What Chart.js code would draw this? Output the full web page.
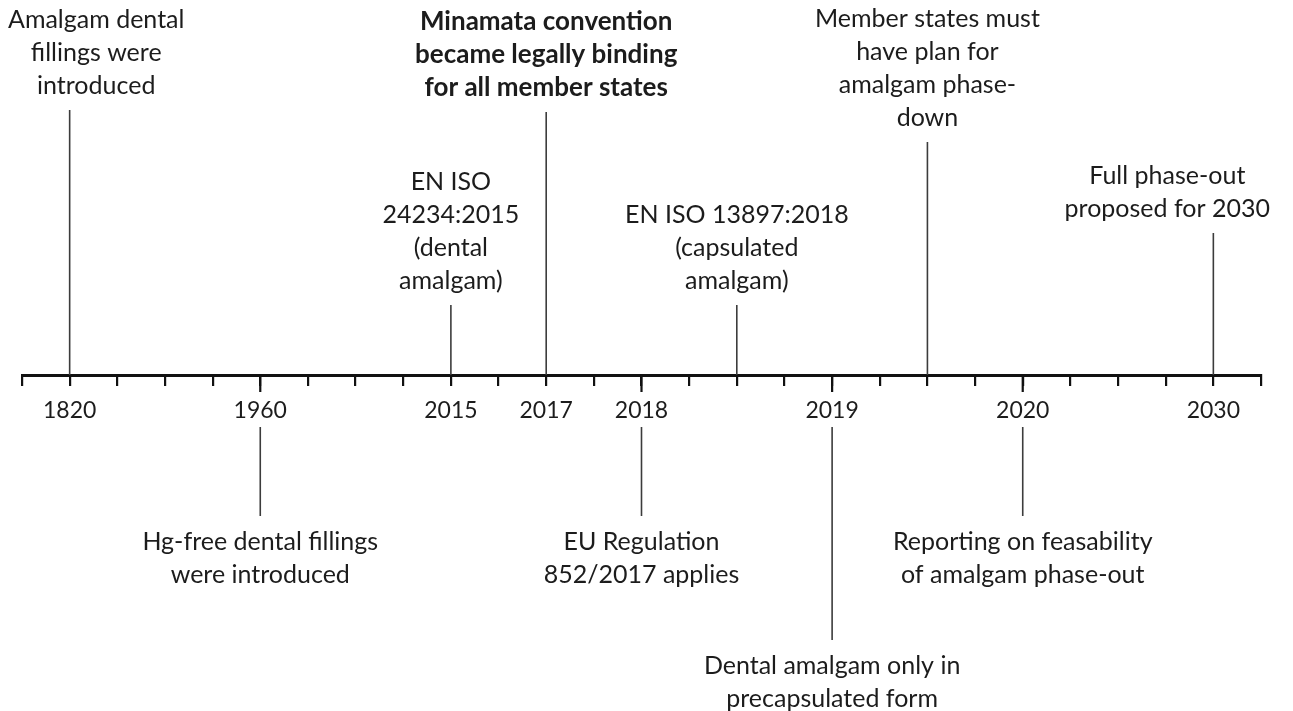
<!DOCTYPE html>
<html>
<head>
<meta charset="utf-8">
<script src="https://cdn.jsdelivr.net/npm/chart.js@4.4.0/dist/chart.umd.min.js"></script>
<style>
  html, body { margin: 0; padding: 0; background: #fff; }
  #wrap { width: 1293px; height: 711px; }
</style>
</head>
<body>
<div id="wrap"><canvas id="timeline"></canvas></div>
<script>
// axis slots (one tick per slot) and the years printed under some of them
const tickSlots = [1, 5, 9, 11, 13, 17, 21, 25];
const tickYears = ['1820', '1960', '2015', '2017', '2018', '2019', '2020', '2030'];

// events: slot on the axis, where the stem starts/ends (above > 0, below < 0)
const eventSlots = [1, 11, 9, 15, 19, 25, 5, 13, 17, 21];
const stemStart = [0, 0, 0, 0, 0, 0, -52, -52, -52, -52];
const stemEnd = [265, 263, 70, 70, 233, 142, -141, -141, -265, -141];
const eventTexts = [
  ['Amalgam dental', 'fillings were', 'introduced'],
  ['Minamata convention', 'became legally binding', 'for all member states'],
  ['EN ISO', '24234:2015', '(dental', 'amalgam)'],
  ['EN ISO 13897:2018', '(capsulated', 'amalgam)'],
  ['Member states must', 'have plan for', 'amalgam phase-', 'down'],
  ['Full phase-out', 'proposed for 2030'],
  ['Hg-free dental fillings', 'were introduced'],
  ['EU Regulation', '852/2017 applies'],
  ['Dental amalgam only in', 'precapsulated form'],
  ['Reporting on feasability', 'of amalgam phase-out']
];
const boldEvent = 1;

const FONT = 'Lato';
const FONT_SIZE = 25;
const TICK_FONT_SIZE = 23;
const LINE = 33;
const TEXT_COLOR = '#1c1c1c';

const datasets = [];
eventSlots.forEach((slot, i) => {
  datasets.push({
    data: [{ x: slot, y: stemStart[i] }, { x: slot, y: stemEnd[i] }],
    borderColor: '#3c3c3c',
    borderWidth: 1.6
  });
  // events below the axis get a longer tick mark
  if (stemEnd[i] < 0) {
    datasets.push({
      data: [{ x: slot, y: 0 }, { x: slot, y: -17 }],
      borderColor: '#111',
      borderWidth: 2.2
    });
  }
});

const eventLabels = {
  id: 'eventLabels',
  afterDatasetsDraw(chart) {
    const { ctx, scales: { x, y } } = chart;
    ctx.save();
    ctx.fillStyle = TEXT_COLOR;
    ctx.textAlign = 'center';
    ctx.textBaseline = 'alphabetic';
    eventTexts.forEach((lines, i) => {
      ctx.font = i === boldEvent ? 'bold 26px ' + FONT : FONT_SIZE + 'px ' + FONT;
      const w = Math.max(...lines.map(t => ctx.measureText(t).width));
      let cx = x.getPixelForValue(eventSlots[i]);
      cx = Math.min(Math.max(cx, 8 + w / 2), 1270 - w / 2);
      const end = y.getPixelForValue(stemEnd[i]);
      const above = stemEnd[i] > 0;
      lines.forEach((t, k) => {
        const by = above
          ? end - 16 - (lines.length - 1 - k) * LINE
          : end + 34 + k * LINE;
        ctx.fillText(t, cx, by);
      });
    });
    ctx.restore();
  }
};

new Chart(document.getElementById('timeline'), {
  type: 'scatter',
  data: { datasets },
  options: {
    responsive: true,
    maintainAspectRatio: false,
    animation: false,
    showLine: true,
    elements: { point: { radius: 0, hoverRadius: 0 } },
    layout: { padding: { left: 22, right: 32, top: 0, bottom: 0 } },
    plugins: { legend: { display: false }, tooltip: { enabled: false } },
    scales: {
      x: {
        type: 'linear',
        position: { y: 0 },
        min: 0,
        max: 26,
        afterFit: (s) => { s.height = 0; },
        border: { display: true, color: '#111', width: 3 },
        grid: { drawOnChartArea: false, drawTicks: true, tickLength: 9, color: '#111', lineWidth: 2.2 },
        ticks: {
          stepSize: 1,
          autoSkip: false,
          maxRotation: 0,
          padding: 13,
          color: TEXT_COLOR,
          font: { family: FONT, size: TICK_FONT_SIZE },
          callback: (v) => {
            const k = tickSlots.indexOf(v);
            return k >= 0 ? tickYears[k] : '';
          }
        }
      },
      y: {
        type: 'linear',
        display: false,
        min: -336,
        max: 375
      }
    }
  },
  plugins: [eventLabels]
});
</script>
</body>
</html>
